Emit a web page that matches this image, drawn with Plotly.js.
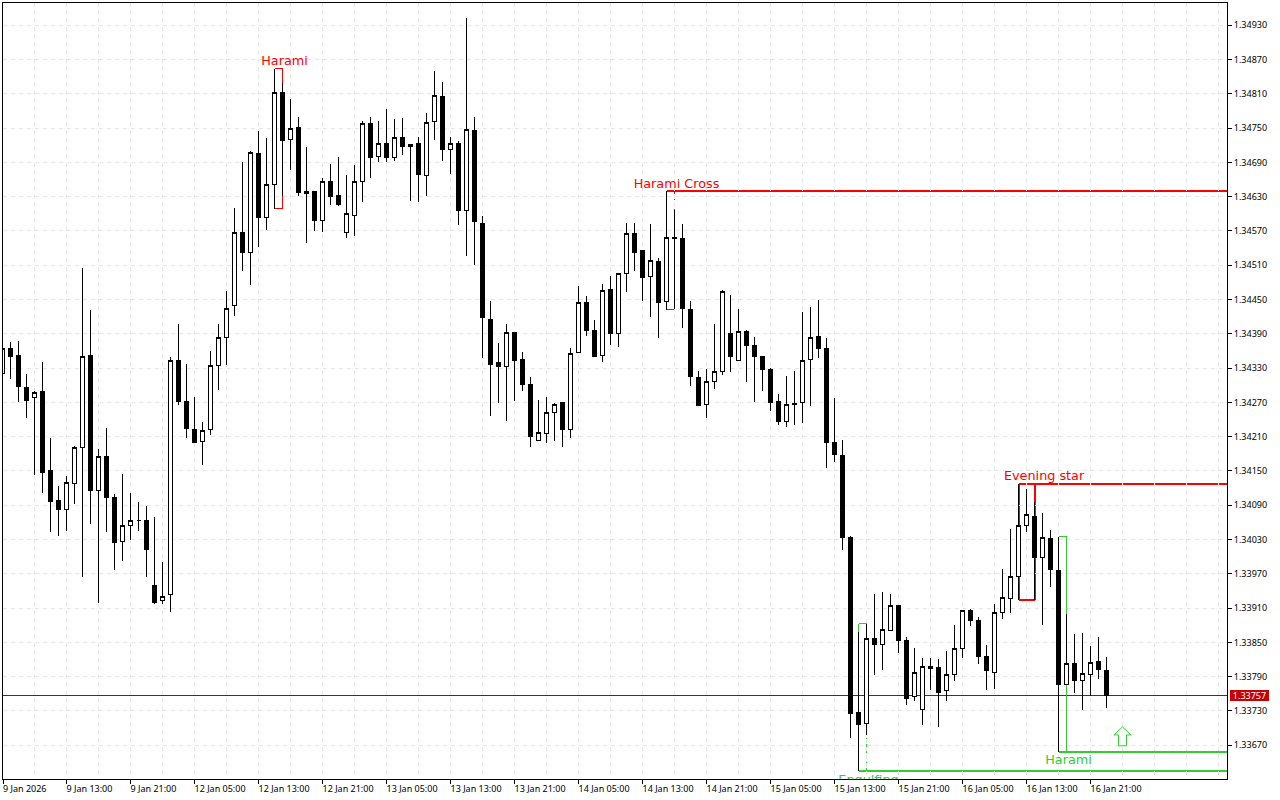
<!DOCTYPE html>
<html><head><meta charset="utf-8">
<script src="https://cdn.plot.ly/plotly-3.0.1.min.js"></script>
<style>
html,body{margin:0;padding:0;background:#fff;overflow:hidden}
.xtick text{text-anchor:start !important}
.shapelayer path,.boxlayer path{shape-rendering:crispEdges}
</style></head><body>
<div id="chart" style="width:1280px;height:800px"></div>
<script>
const opens=[1.34321,1.34364,1.34352,1.34296,1.34278,1.34289,1.34151,1.34098,1.34082,1.34128,
1.34191,1.34352,1.34116,1.34175,1.34103,1.34026,1.34054,1.34063,1.34063,1.33949,
1.33923,1.33934,1.34343,1.34271,1.34222,1.34201,1.34222,1.34334,1.34383,1.34439,
1.34568,1.34532,1.34705,1.34593,1.34651,1.34812,1.34730,1.34751,1.34635,1.34639,
1.34589,1.34656,1.34632,1.34567,1.34597,1.34656,1.34758,1.34700,1.34723,1.34698,
1.34734,1.34718,1.34723,1.34667,1.34761,1.34805,1.34712,1.34723,1.34605,1.34746,
1.34583,1.34415,1.34339,1.34332,1.34392,1.34345,1.34301,1.34203,1.34215,1.34252,
1.34269,1.34222,1.34357,1.34445,1.34396,1.34352,1.34467,1.34390,1.34495,1.34565,
1.34535,1.34490,1.34517,1.34446,1.34558,1.34556,1.34433,1.34314,1.34266,1.34306,
1.34324,1.34390,1.34344,1.34394,1.34369,1.34350,1.34328,1.34271,1.34236,1.34268,
1.34270,1.34345,1.34385,1.34364,1.34200,1.34177,1.34033,1.33727,1.33708,1.33857,
1.33846,1.33871,1.33914,1.33853,1.33755,1.33732,1.33808,1.33806,1.33765,1.33793,
1.33839,1.33906,1.33888,1.33825,1.33798,1.33902,1.33927,1.33966,1.34054,1.34070,
1.33998,1.34032,1.33976,1.33776,1.33813,1.33783,1.33793,1.33817,1.33801];
const highs=[1.34370,1.34375,1.34377,1.34320,1.34290,1.34340,1.34207,1.34123,1.34141,1.34193,
1.34506,1.34431,1.34188,1.34225,1.34109,1.34144,1.34111,1.34095,1.34088,1.34069,
1.33990,1.34350,1.34407,1.34337,1.34279,1.34235,1.34360,1.34407,1.34465,1.34610,
1.34690,1.34710,1.34745,1.34732,1.34854,1.34829,1.34801,1.34770,1.34717,1.34639,
1.34663,1.34687,1.34699,1.34668,1.34685,1.34763,1.34769,1.34762,1.34783,1.34766,
1.34767,1.34723,1.34734,1.34776,1.34850,1.34830,1.34734,1.34728,1.34942,1.34769,
1.34596,1.34447,1.34374,1.34407,1.34393,1.34358,1.34314,1.34274,1.34279,1.34269,
1.34269,1.34366,1.34473,1.34457,1.34414,1.34477,1.34492,1.34495,1.34584,1.34584,
1.34536,1.34582,1.34523,1.34640,1.34607,1.34582,1.34447,1.34325,1.34328,1.34407,
1.34466,1.34458,1.34433,1.34396,1.34384,1.34351,1.34331,1.34284,1.34316,1.34325,
1.34428,1.34437,1.34449,1.34382,1.34277,1.34204,1.34037,1.33868,1.33883,1.33935,
1.33938,1.33935,1.33915,1.33860,1.33840,1.33822,1.33822,1.33821,1.33835,1.33880,
1.33907,1.33909,1.33894,1.33845,1.33917,1.33978,1.34049,1.34127,1.34118,1.34096,
1.34077,1.34046,1.34035,1.33899,1.33864,1.33867,1.33843,1.33859,1.33824];
const lows=[1.34300,1.34311,1.34270,1.34243,1.34143,1.34112,1.34043,1.34036,1.34045,1.34092,
1.33965,1.34057,1.33919,1.34043,1.33977,1.33993,1.34029,1.34045,1.33965,1.33917,
1.33917,1.33903,1.34266,1.34207,1.34199,1.34161,1.34213,1.34292,1.34335,1.34421,
1.34500,1.34475,1.34542,1.34572,1.34609,1.34631,1.34677,1.34631,1.34549,1.34570,
1.34568,1.34616,1.34613,1.34558,1.34561,1.34621,1.34663,1.34691,1.34691,1.34693,
1.34703,1.34623,1.34621,1.34631,1.34729,1.34692,1.34670,1.34581,1.34526,1.34510,
1.34347,1.34246,1.34269,1.34238,1.34272,1.34290,1.34192,1.34203,1.34199,1.34203,
1.34192,1.34208,1.34357,1.34386,1.34349,1.34340,1.34371,1.34367,1.34463,1.34500,
1.34448,1.34420,1.34383,1.34432,1.34434,1.34400,1.34298,1.34264,1.34242,1.34293,
1.34318,1.34323,1.34344,1.34305,1.34270,1.34290,1.34255,1.34230,1.34227,1.34230,
1.34234,1.34263,1.34347,1.34155,1.34165,1.34011,1.33683,1.33625,1.33688,1.33793,
1.33801,1.33870,1.33832,1.33740,1.33748,1.33706,1.33766,1.33702,1.33748,1.33782,
1.33822,1.33879,1.33812,1.33767,1.33768,1.33891,1.33902,1.33924,1.34043,1.33924,
1.33881,1.33947,1.33658,1.33775,1.33762,1.33732,1.33757,1.33786,1.33736];
const closes=[1.34364,1.34351,1.34297,1.34273,1.34287,1.34147,1.34096,1.34082,1.34130,1.34191,
1.34350,1.34115,1.34175,1.34103,1.34024,1.34054,1.34063,1.34063,1.34012,1.33919,
1.33931,1.34343,1.34271,1.34224,1.34199,1.34220,1.34334,1.34383,1.34435,1.34567,
1.34532,1.34707,1.34593,1.34651,1.34812,1.34729,1.34749,1.34637,1.34639,1.34589,
1.34656,1.34631,1.34617,1.34600,1.34656,1.34758,1.34698,1.34723,1.34698,1.34733,
1.34717,1.34722,1.34668,1.34759,1.34807,1.34712,1.34723,1.34606,1.34747,1.34586,
1.34418,1.34337,1.34332,1.34393,1.34344,1.34301,1.34210,1.34217,1.34252,1.34266,
1.34222,1.34355,1.34445,1.34395,1.34351,1.34466,1.34390,1.34495,1.34565,1.34533,
1.34488,1.34518,1.34444,1.34558,1.34557,1.34434,1.34315,1.34265,1.34306,1.34324,
1.34464,1.34351,1.34394,1.34369,1.34350,1.34327,1.34270,1.34236,1.34266,1.34266,
1.34343,1.34383,1.34365,1.34199,1.34178,1.34033,1.33725,1.33707,1.33857,1.33846,
1.33872,1.33914,1.33853,1.33751,1.33797,1.33808,1.33804,1.33763,1.33794,1.33839,
1.33906,1.33888,1.33825,1.33800,1.33902,1.33928,1.33966,1.34054,1.34074,1.33998,
1.34033,1.33977,1.33776,1.33813,1.33783,1.33795,1.33815,1.33802,1.33757];

const xTickLabels=["9 Jan 2026","9 Jan 13:00","9 Jan 21:00","12 Jan 05:00","12 Jan 13:00","12 Jan 21:00",
"13 Jan 05:00","13 Jan 13:00","13 Jan 21:00","14 Jan 05:00","14 Jan 13:00","14 Jan 21:00",
"15 Jan 05:00","15 Jan 13:00","15 Jan 21:00","16 Jan 05:00","16 Jan 13:00","16 Jan 21:00"];
const yTickValues=[1.33670,1.33730,1.33790,1.33850,1.33910,1.33970,1.34030,1.34090,1.34150,1.34210,1.34270,
1.34330,1.34390,1.34450,1.34510,1.34570,1.34630,1.34690,1.34750,1.34810,1.34870,1.34930];

// Candlestick pattern boxes: first bar, last bar, high and low of each box
const patternNames=["Harami","Harami Cross","Evening star","Engulfing","Harami"];
const patternFirst=[34,83,127,107,132];
const patternLast=[35,84,129,108,133];
const patternHigh=[1.34854,1.34640,1.34127,1.33883,1.34035];
const patternLow=[1.34609,1.34432,1.33924,1.33625,1.33658];
const patternColor=["#ff0000","#ff0000","#ff0000","#32cd32","#32cd32"];
const patternWidth=[1,1,2,1,1];
const patternSideDash=["solid","dot","solid","dot","solid"];
const rayPrice=[null,1.34640,1.34127,1.33625,1.33658];
const labelBar=[35.25,84.25,130.2,108.25,133.25];
const labelPrice=[1.34866,1.34650,1.34139,1.33608,1.33642];

const lastPrice=1.33757;
const arrowBars=[140,141.06,140.5,140.5,139.5,139.5,138.94,140];
const arrowPrices=[1.33702,1.33688,1.33688,1.33669,1.33669,1.33688,1.33688,1.33702];

const bars=opens.map((_,i)=>i);
const xRange=[0.0625,153.0625];
const yRange=[1.349689,1.336109];
// The first tick sits on the left edge of the window: bar 0 is half cut off by it
const xTickVals=xTickLabels.map((_,i)=>i===0?xRange[0]:i*8);

const shapes=[];
function seg(x0,x1,y0,y1,color,width,dash){
  shapes.push({type:"line",xref:"x",yref:"y",x0,x1,y0,y1,layer:"below",line:{color,width,dash:dash||"solid"}});
}
patternNames.forEach((_,i)=>{
  const c=patternColor[i],w=patternWidth[i],a=patternFirst[i],b=patternLast[i],h=patternHigh[i],l=patternLow[i];
  seg(a,b,h,h,c,w);
  seg(a,b,l,l,c,w);
  seg(a,a,h,l,c,w);
  seg(b,b,h,l,c,w,patternSideDash[i]);
  if(rayPrice[i]!==null) seg(a,xRange[1],rayPrice[i],rayPrice[i],c,2);
});
shapes.push({type:"line",xref:"paper",yref:"y",x0:0,x1:1,y0:lastPrice,y1:lastPrice,layer:"below",line:{color:"#b40000",width:1}});

const traces=[
  {type:"candlestick",x:bars,open:opens,high:highs,low:lows,close:closes,
   increasing:{line:{color:"#000",width:1},fillcolor:"#fff"},
   decreasing:{line:{color:"#000",width:1},fillcolor:"#000"},
   whiskerwidth:0,hoverinfo:"skip",showlegend:false},
  {type:"scatter",mode:"lines",x:arrowBars,y:arrowPrices,fill:"toself",fillcolor:"#fff",
   line:{color:"#32cd32",width:1},hoverinfo:"skip",showlegend:false},
  {type:"scatter",mode:"text",x:labelBar,y:labelPrice,text:patternNames,textposition:"middle center",
   cliponaxis:true,hoverinfo:"skip",showlegend:false,
   textfont:{family:"DejaVu Sans",size:12.8,color:patternColor}}
];

const gridColor="#e6e6e6", gridDash="4px,4px";
const layout={
  width:1280,height:800,margin:{l:3,r:53,t:3,b:21,pad:0},
  paper_bgcolor:"#fff",plot_bgcolor:"#fff",showlegend:false,
  boxgap:0.5,boxgroupgap:0,boxmode:"overlay",dragmode:false,
  font:{family:"Noto Sans",size:9,color:"#000"},
  xaxis:{type:"linear",range:xRange,rangeslider:{visible:false},fixedrange:true,
    tickmode:"array",tickvals:xTickVals,ticktext:xTickLabels,tickangle:0,
    ticks:"outside",ticklen:4,tickwidth:1,tickcolor:"#000",
    ticklabeloverflow:"allow",ticklabelstandoff:-3,
    tickfont:{family:"Noto Sans",size:9,color:"#000"},
    showgrid:true,gridcolor:gridColor,griddash:gridDash,gridwidth:1,
    minor:{tickmode:"linear",tick0:0,dtick:4,showgrid:true,gridcolor:gridColor,griddash:gridDash,gridwidth:1,ticks:""},
    showline:true,linecolor:"#000",linewidth:1,mirror:true,zeroline:false},
  yaxis:{type:"linear",side:"right",range:[yRange[1],yRange[0]],fixedrange:true,
    tickmode:"array",tickvals:yTickValues,ticktext:yTickValues.map(v=>v.toFixed(5)),
    ticks:"outside",ticklen:4,tickwidth:1,tickcolor:"#000",
    tickfont:{family:"Noto Sans",size:9,color:"#000"},
    showgrid:true,gridcolor:gridColor,griddash:gridDash,gridwidth:1,
    showline:true,linecolor:"#000",linewidth:1,mirror:true,zeroline:false},
  shapes,
  annotations:[{xref:"paper",yref:"y",x:1,y:lastPrice,xanchor:"left",yanchor:"middle",xshift:3,
    text:lastPrice.toFixed(5),showarrow:false,bgcolor:"#c80000",borderpad:0,borderwidth:0,width:39,height:11,
    font:{family:"Noto Sans",size:9,color:"#fff"}}]
};
Plotly.newPlot("chart",traces,layout,{displayModeBar:false,staticPlot:true});
</script></body></html>
